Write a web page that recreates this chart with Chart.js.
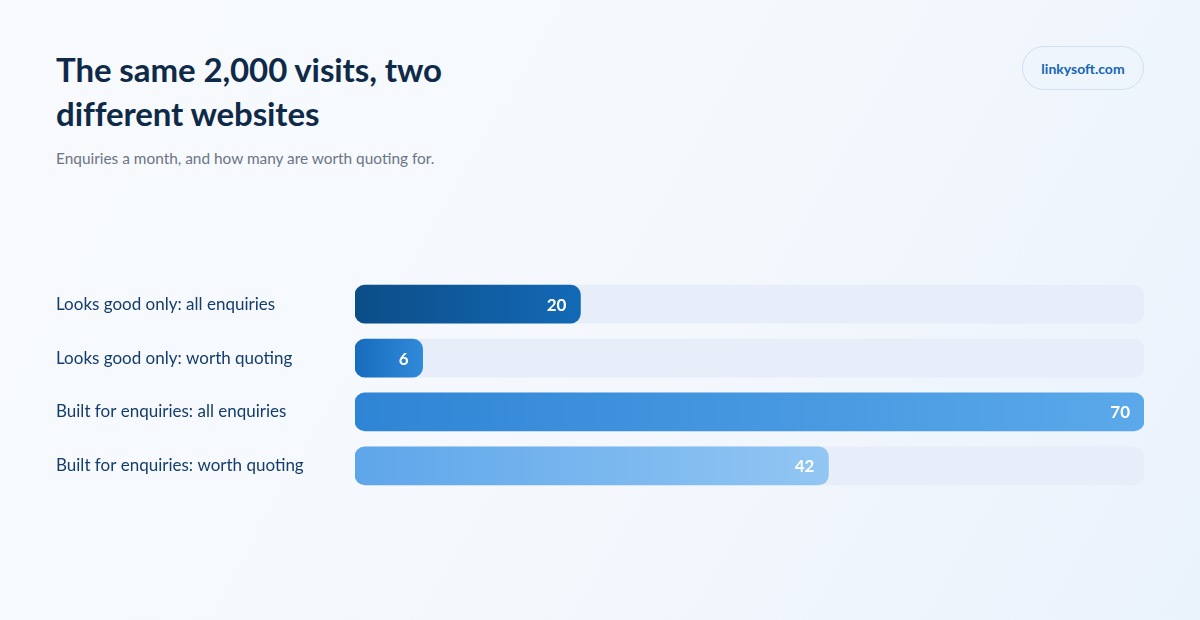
<!DOCTYPE html>
<html>
<head>
<meta charset="utf-8">
<script src="https://cdn.jsdelivr.net/npm/chart.js@4.4.1/dist/chart.umd.min.js"></script>
<style>
  html, body { margin: 0; padding: 0; }
  body {
    width: 1200px; height: 620px; overflow: hidden; position: relative;
    background: linear-gradient(120deg, #f8fafd 0%, #f4f8fd 55%, #eaf2fc 100%);
    font-family: Lato, "Noto Sans", sans-serif;
  }
  h1 {
    position: absolute; left: 56px; top: 47px; margin: 0; width: 460px;
    font-size: 33px; line-height: 44px; font-weight: 700; color: #0f2a48;
    letter-spacing: -0.1px;
  }
  .sub {
    position: absolute; left: 56px; top: 149px; margin: 0;
    font-size: 15.4px; color: #6b7585;
  }
  .pill {
    position: absolute; left: 1022px; top: 46px; width: 120px; height: 42px;
    border: 1px solid #cfe0f3; border-radius: 22px; background: #eef5fd;
    color: #1565b5; font-weight: 700; font-size: 14px;
    display: flex; align-items: center; justify-content: center;
  }
  #wrap { position: absolute; left: 56px; top: 267px; width: 1088px; height: 236px; }
</style>
</head>
<body>
<h1>The same 2,000 visits, two different websites</h1>
<p class="sub">Enquiries a month, and how many are worth quoting for.</p>
<div class="pill">linkysoft.com</div>
<div id="wrap"><canvas id="chartBox"></canvas></div>
<script>
'use strict';

const categories = [
    "Looks good only: all enquiries",
    "Looks good only: worth quoting",
    "Built for enquiries: all enquiries",
    "Built for enquiries: worth quoting"
];
const enquiries = [20, 6, 70, 42];
const scaleMax = 70;

// colour stops for each bar, left to right
const barStops = [
    ["#0c4d87", "#1369b6"],
    ["#176cbd", "#3189d9"],
    ["#2f85d5", "#5ba9ea"],
    ["#5ea6ea", "#92c6f3"]
];

function barGradient(context){
    const chart = context.chart;
    const area = chart.chartArea;
    if(!area) return barStops[0][0];
    const i = context.dataIndex;
    const xs = chart.scales.x;
    const x0 = xs.getPixelForValue(0);
    const x1 = xs.getPixelForValue(enquiries[i]);
    const g = chart.ctx.createLinearGradient(x0, 0, x1, 0);
    g.addColorStop(0, barStops[i][0]);
    g.addColorStop(1, barStops[i][1]);
    return g;
}

// value labels inside the end of each bar
const valueLabels = {
    id: 'valueLabels',
    afterDatasetsDraw(chart){
        const ctx = chart.ctx;
        const meta = chart.getDatasetMeta(1);
        ctx.save();
        ctx.font = "bold 17px Lato, 'Noto Sans', sans-serif";
        ctx.fillStyle = "#ffffff";
        ctx.textAlign = "right";
        ctx.textBaseline = "middle";
        meta.data.forEach((bar, i) => {
            ctx.fillText(String(enquiries[i]), bar.x - 14, bar.y + 1);
        });
        ctx.restore();
    }
};

const ctx = document.getElementById('chartBox').getContext('2d');
window.myChart = new Chart(ctx, {
    type: 'bar',
    data: {
        labels: categories,
        datasets: [
            {
                label: 'track',
                data: categories.map(() => scaleMax),
                backgroundColor: '#e7eef9',
                borderRadius: 10,
                borderSkipped: false,
                grouped: false,
                order: 2,
                barThickness: 38
            },
            {
                label: 'Enquiries',
                data: enquiries,
                backgroundColor: barGradient,
                borderRadius: 10,
                borderSkipped: false,
                grouped: false,
                order: 1,
                barThickness: 38
            }
        ]
    },
    options: {
        indexAxis: 'y',
        responsive: true,
        maintainAspectRatio: false,
        animation: false,
        layout: { padding: 0 },
        plugins: {
            legend: { display: false },
            tooltip: { enabled: false }
        },
        scales: {
            x: {
                min: 0,
                max: scaleMax,
                display: false
            },
            y: {
                grid: { display: false },
                border: { display: false },
                afterFit(scale){ scale.width = 299; },
                ticks: {
                    crossAlign: 'far',
                    padding: 0,
                    color: '#143d6b',
                    font: { family: "Lato, 'Noto Sans', sans-serif", size: 17 }
                }
            }
        }
    },
    plugins: [valueLabels]
});
</script>
</body>
</html>
